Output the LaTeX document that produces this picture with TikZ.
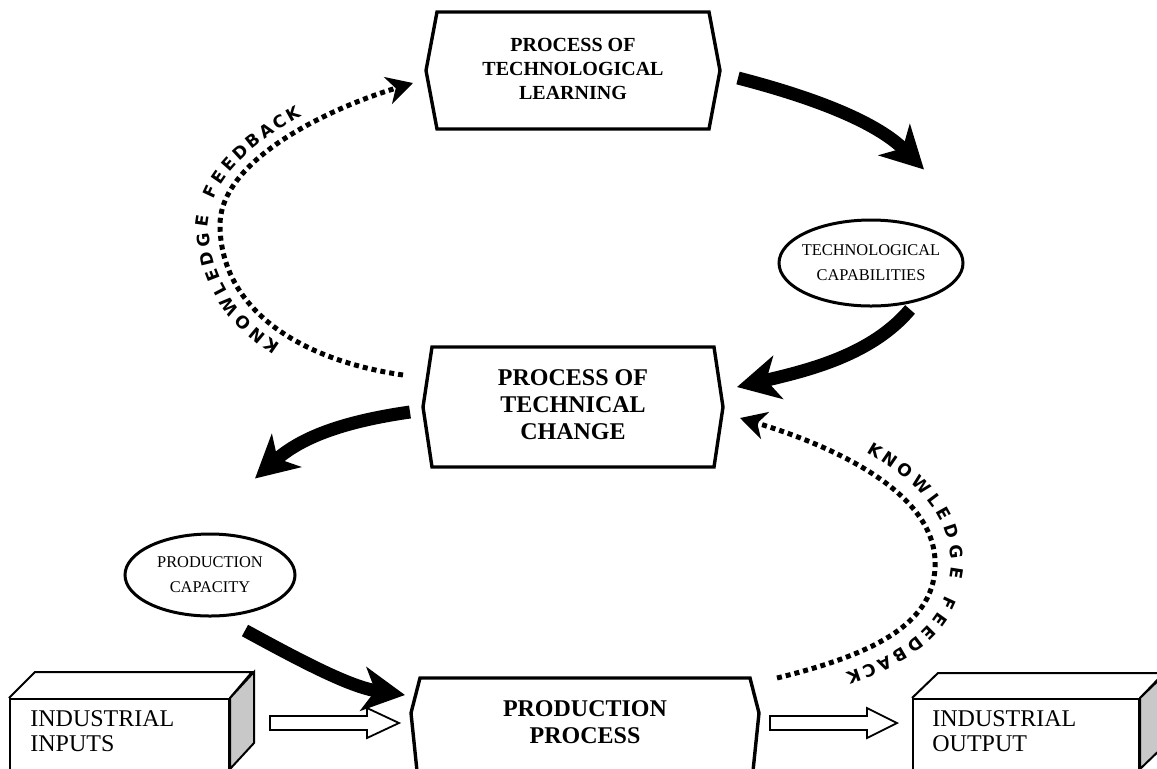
\documentclass[tikz,border=0pt]{standalone}
\usepackage{fontspec}
\setmainfont{Liberation Serif}
\newfontfamily\curvefont{DejaVu Sans}
\usetikzlibrary{arrows.meta,shapes.geometric,decorations.text}
\newcommand\curvetext{\fontsize{8.5}{10}\selectfont\curvefont\bfseries}

\begin{document}
\begin{tikzpicture}[x=0.5pt,y=0.5pt,
  hexframe/.style={rectangle,inner sep=0,outer sep=0},
  boxline/.style={line width=1.7pt,line join=miter},
  boxtext/.style={align=center,font=\fontsize{12}{13.5}\selectfont\bfseries},
  capell/.style={ellipse,draw,line width=1.5pt,inner xsep=-14pt,inner ysep=-4pt,
    minimum width=92pt,minimum height=43pt,align=center,font=\fontsize{8.2}{12.5}\selectfont},
  cube/.style={draw,line width=1pt,inner sep=0,minimum height=51pt},
  cubetext/.style={anchor=north west,inner sep=0,align=left,font=\fontsize{12}{12.5}\selectfont},
  bigarrow/.style={line width=6.5pt,-{Stealth[length=21pt,width=22pt,inset=6pt]}},
  dotarrow/.style={line width=2.5pt,dash pattern=on 2.5pt off 2pt,
    -{Stealth[length=13pt,width=14pt,inset=4pt]}},
  hollow/.style={draw,line width=0.9pt,fill=white,line join=miter}]
\definecolor{sidegray}{HTML}{C8C8C8}
\useasboundingbox (0,0) rectangle (1157,-768);

% process boxes
\node[hexframe,minimum width=136pt,minimum height=58.5pt] (learn) at (573,-70.5) {};
\node[hexframe,minimum width=141pt,minimum height=60pt] (change) at (573,-407) {};
\node[hexframe,minimum width=165pt,minimum height=61pt] (prod) at (585,-739) {};
\foreach \n/\b/\m in {learn/11/0,change/9/0,prod/9/26}
  \draw[boxline] (\n.north west) -- (\n.north east) -- ([shift={(\b,\m)}]\n.east)
    -- (\n.south east) -- (\n.south west) -- ([shift={(-\b,\m)}]\n.west) -- cycle;
\node[boxtext,font=\fontsize{10}{12}\selectfont\bfseries] (learntxt) at (573,-69) {PROCESS OF\\TECHNOLOGICAL\\LEARNING};
\node[boxtext] (changetxt) at (573,-405) {PROCESS OF\\TECHNICAL\\CHANGE};
\node[boxtext] (prodtxt) at (585,-722) {PRODUCTION\\PROCESS};

% ellipses
\node[capell] (caps) at (871,-263) {TECHNOLOGICAL\\CAPABILITIES};
\node[capell,minimum width=85pt,minimum height=41pt] (capacity) at (210,-575) {PRODUCTION\\CAPACITY};

% input and output blocks
\node[cube,anchor=north west,minimum width=109.5pt] (inputs) at (9,-698) {};
\draw[line width=1pt] (inputs.north west) -- ++(26,26) -- ++(217,0) -- (inputs.north east);
\draw[line width=1pt,fill=sidegray] (inputs.north east) -- ++(24,26) -- ++(0,-71) -- ++(-24,-26) -- cycle;
\node[cubetext] (intxt) at ([shift={(21,-12)}]inputs.north west) {INDUSTRIAL\\INPUTS};
\node[cube,anchor=north west,minimum width=113pt] (outputs) at (912,-698) {};
\draw[line width=1pt] (outputs.north west) -- ++(26,25) -- ++(226,0) -- (outputs.north east);
\draw[line width=1pt,fill=sidegray] (outputs.north east) -- ++(26,25) -- ++(0,-71) -- ++(-26,-25) -- cycle;
\node[cubetext] (outtxt) at ([shift={(20,-12)}]outputs.north west) {INDUSTRIAL\\OUTPUT};

% flow arrows
\draw[hollow] ([shift={(40,-25)}]inputs.north east) -- ++(0,7) -- ++(97,0) -- ++(0,8)
  -- ++(32,-15) -- ++(-32,-15) -- ++(0,8) -- ++(-97,0) -- cycle;
\draw[hollow] ([shift={(20,16)}]prod.east) -- ++(0,7) -- ++(97,0) -- ++(0,8)
  -- ++(30,-15) -- ++(-30,-15) -- ++(0,8) -- ++(-97,0) -- cycle;

% main cycle
\draw[bigarrow] ([shift={(29,-7.5)}]learn.east) .. controls +(85,-22) and +(-45,45) .. ([shift={(53,49)}]caps.north);
\draw[bigarrow] ([yshift=-3]caps.-46) .. controls +(-38,-45) and +(73,17) .. ([shift={(23,20)}]change.east);
\draw[bigarrow] ([shift={(-22,-5)}]change.west) .. controls +(-70,-10) and +(45,40) .. ([shift={(45,54)}]capacity.north);
\draw[bigarrow] ([shift={(35,-13)}]capacity.south) .. controls +(55,-30) and +(-55,8) .. ([shift={(-15,-17)}]prod.north west);

% knowledge feedback
\draw[dotarrow] ([shift={(-29,-28)}]change.north west) .. controls (300,-360) and (222,-310) .. (220,-227)
  .. controls (218,-160) and (330,-108) .. ([shift={(-24,-12.5)}]learn.west);
\path[decorate,decoration={text along path,text align={left indent=62pt},raise=5.5pt,
  text={|\curvetext|{K\kern1.2pt}{N\kern1.2pt}{O\kern1.2pt}{W\kern1.2pt}{L\kern1.2pt}{E\kern1.2pt}{D\kern1.2pt}{G\kern1.2pt}{E\kern7pt}{F\kern1.2pt}{E\kern1.2pt}{E\kern1.2pt}{D\kern1.2pt}{B\kern1.2pt}{A\kern1.2pt}{C\kern1.2pt}K}}]
  (403,-375) .. controls (300,-360) and (222,-310) .. (220,-227) .. controls (218,-160) and (330,-108) .. (413,-83);
\draw[dotarrow] ([shift={(27,0)}]prod.north east) .. controls (870,-655) and (938,-625) .. (935,-560)
  .. controls (932,-490) and (830,-445) .. ([shift={(26,-11)}]change.east);
\path[decorate,decoration={text along path,text align={left indent=64pt},raise=8pt,
  text={|\curvetext|{K\kern1.2pt}{N\kern1.2pt}{O\kern1.2pt}{W\kern1.2pt}{L\kern1.2pt}{E\kern1.2pt}{D\kern1.2pt}{G\kern1.2pt}{E\kern7pt}{F\kern1.2pt}{E\kern1.2pt}{E\kern1.2pt}{D\kern1.2pt}{B\kern1.2pt}{A\kern1.2pt}{C\kern1.2pt}K}}]
  (740,-418) .. controls (830,-445) and (932,-490) .. (935,-560) .. controls (938,-625) and (870,-655) .. (777,-673);
\end{tikzpicture}
\end{document}
